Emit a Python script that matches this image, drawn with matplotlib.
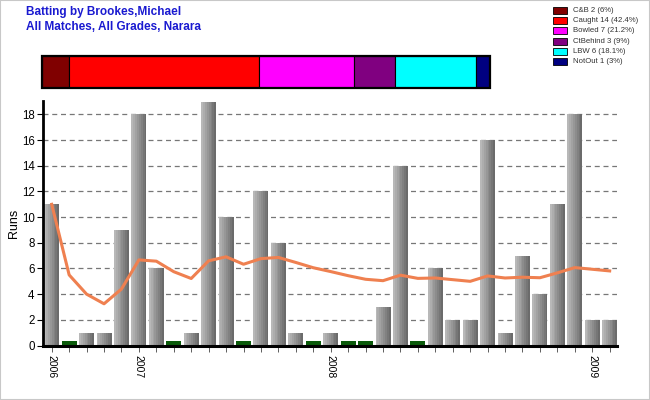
import matplotlib
matplotlib.use('Agg')
import matplotlib.pyplot as plt
import numpy as np
from matplotlib.patches import Rectangle

# ---- data ----
runs = [11, 0, 1, 1, 9, 18, 6, 0, 1, 19, 10, 0, 12, 8, 1, 0, 1, 0, 0, 3,
        14, 0, 6, 2, 2, 16, 1, 7, 4, 11, 18, 2, 2]
average = [11, 5.5, 4.0, 3.25, 4.4, 6.67, 6.57, 5.75, 5.22, 6.6, 6.91, 6.33,
           6.77, 6.86, 6.47, 6.06, 5.76, 5.44, 5.16, 5.05, 5.48, 5.23, 5.26,
           5.13, 5.0, 5.42, 5.26, 5.32, 5.28, 5.66, 6.07, 5.94, 5.81]
year_tick_index = [0, 5, 16, 31]
year_labels = ['2006', '2007', '2008', '2009']
dismissal_names = ['C&B', 'Caught', 'Bowled', 'CtBehind', 'LBW', 'NotOut']
dismissal_counts = [2, 14, 7, 3, 6, 1]
dismissal_pct = ['6%', '42.4%', '21.2%', '9%', '18.1%', '3%']
dismissal_colors = ['#800000', '#ff0000', '#ff00ff', '#800080', '#00ffff', '#000080']
title_lines = ['Batting by Brookes,Michael', 'All Matches, All Grades, Narara']

plt.rcParams['font.family'] = ['Liberation Sans', 'DejaVu Sans']

W, H = 650, 400
fig = plt.figure(figsize=(6.5, 4), dpi=100)
fig.patch.set_facecolor('white')

def fx(px):
    return px / W

def fy(py):
    return 1 - py / H

# ---- main axes ----
ax = fig.add_axes([fx(43), fy(345.5), fx(617 - 43), (345.5 - 101) / H])
x = np.arange(len(runs))
r = np.array(runs, dtype=float)
bw = 0.86
nstrip = 8
shades = np.linspace(0.72, 0.42, nstrip)
hs = np.where(r > 0, r, 0)
for k in range(nstrip):
    c = (shades[k],) * 3
    ax.bar(x - bw / 2 + k * bw / nstrip, hs, width=bw / nstrip, align='edge',
           color=c, linewidth=0, zorder=2)
duck = np.where(r == 0, 0.32, 0)
ax.bar(x, duck, width=bw, color='#0a5a0a', linewidth=0, zorder=2)

ax.plot(x, average, color='#ef8050', linewidth=2.2, zorder=3,
        solid_joinstyle='round')

ax.set_xlim(-0.5, 32.42)
ax.set_ylim(0, 19.05)
ax.set_yticks(np.arange(0, 19, 2))
ax.set_yticklabels([str(v) for v in range(0, 19, 2)], fontsize=8.3)
for v in range(2, 19, 2):
    ax.axhline(v, color='#777777', linestyle=(0, (4, 3)), linewidth=0.9, zorder=1)

ax.set_xticks(x)
labels = [''] * len(runs)
for i, lab in zip(year_tick_index, year_labels):
    labels[i] = lab
ax.set_xticklabels(labels, rotation=270, fontsize=7.5, va='top', ha='center')
ax.tick_params(axis='x', length=4, width=0.6, color='#444444', pad=3)
ax.tick_params(axis='y', length=4, width=0.8, pad=2)
for s in ['top', 'right']:
    ax.spines[s].set_visible(False)
ax.spines['left'].set_linewidth(2)
ax.spines['bottom'].set_linewidth(2.2)
ax.set_ylabel('Runs', fontsize=9, labelpad=1)
ax.set_facecolor('white')

# ---- stacked dismissal bar ----
ax2 = fig.add_axes([fx(42), fy(88), fx(490 - 42), 32 / H])
left = 0
for cnt, col in zip(dismissal_counts, dismissal_colors):
    ax2.barh(0, cnt, left=left, height=1, color=col, edgecolor='black', linewidth=0.8)
    left += cnt
ax2.set_xlim(0, sum(dismissal_counts))
ax2.set_ylim(-0.5, 0.5)
ax2.axis('off')
ax2.add_patch(Rectangle((0, -0.5), sum(dismissal_counts), 1, fill=False,
                        edgecolor='black', linewidth=1.6, clip_on=False))

# ---- legend ----
for i, (n, cnt, p, col) in enumerate(zip(dismissal_names, dismissal_counts,
                                         dismissal_pct, dismissal_colors)):
    yc = 10.5 + i * 10.2
    fig.patches.append(Rectangle((fx(553), fy(yc + 3.5)), fx(14), 7 / H,
                                 transform=fig.transFigure, facecolor=col,
                                 edgecolor='black', linewidth=0.6))
    fig.text(fx(573), fy(yc), f'{n} {cnt} ({p})', fontsize=5.6,
             va='center', ha='left', color='#333333')

# ---- title ----
fig.text(fx(26), fy(12), title_lines[0], fontsize=8.5, fontweight='bold',
         color='#1a1ad0', va='center', ha='left')
fig.text(fx(26), fy(27), title_lines[1], fontsize=8.5, fontweight='bold',
         color='#1a1ad0', va='center', ha='left')

# frame
fig.patches.append(Rectangle((0, 0), 1, 1, transform=fig.transFigure, fill=False,
                             edgecolor='#c8c8c8', linewidth=1.5))

fig.savefig('out.png', dpi=100)
